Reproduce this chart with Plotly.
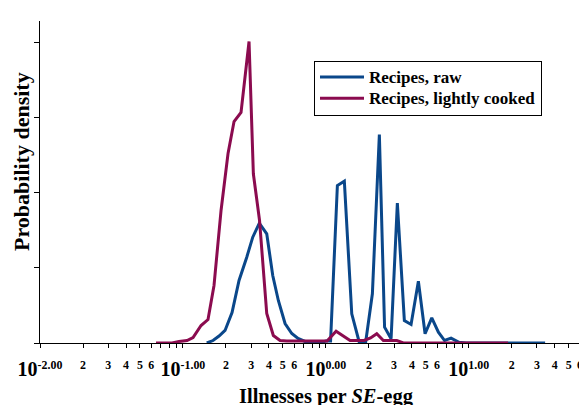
import math
import plotly.graph_objects as go

# ---- data (x: illnesses per SE-egg, y: density, arbitrary units) ----
raw_x = [0.1468, 0.1624, 0.1789, 0.1971, 0.2206, 0.2469, 0.2796, 0.3080, 0.3424, 0.3859,
         0.4250, 0.4651, 0.5183, 0.5775, 0.6390, 0.7152, 0.8006, 0.8960, 1.003, 1.079,
         1.204, 1.347, 1.518, 1.707, 1.902, 2.116, 2.368, 2.575, 2.860, 3.164,
         3.542, 3.947, 4.440, 4.945, 5.509, 6.129, 6.770, 7.517, 8.552, 9.574,
         11.99, 16.56, 22.86, 34.2]
raw_y = [0.0, 0.033, 0.093, 0.167, 0.407, 0.833, 1.144, 1.411, 1.597, 1.456,
         0.90, 0.567, 0.26, 0.127, 0.06, 0.02, 0.0, 0.0, 0.027, 0.027,
         2.10, 2.157, 0.389, 0.02, 0.02, 0.656, 2.78, 0.211, 0.056, 1.864,
         0.30, 0.247, 0.824, 0.123, 0.336, 0.144, 0.033, 0.064, 0.01, 0.0,
         0.0, 0.0, 0.0, 0.0]

cooked_x = [0.06483, 0.07490, 0.08388, 0.09391, 0.1068, 0.1177, 0.1339, 0.1498, 0.1650, 0.1848,
            0.2068, 0.2278, 0.2550, 0.2901, 0.3110, 0.3436, 0.3859, 0.4291, 0.4780, 0.5327,
            0.5926, 0.6600, 0.7350, 0.8177, 0.9108, 1.020, 1.179, 1.319, 1.477, 1.653,
            1.850, 2.055, 2.271, 2.526, 2.813, 3.134, 3.485, 4.563, 6.298, 8.69,
            11.99, 18.84]
cooked_y = [0.0, 0.0, 0.0, 0.02, 0.033, 0.073, 0.233, 0.313, 0.767, 1.767,
            2.527, 2.953, 3.073, 4.02, 2.256, 1.633, 0.393, 0.10, 0.033, 0.027,
            0.027, 0.027, 0.027, 0.027, 0.027, 0.027, 0.157, 0.093, 0.033, 0.033,
            0.033, 0.067, 0.123, 0.033, 0.033, 0.033, 0.0, 0.0, 0.0, 0.0,
            0.0, 0.0]

series_names = ["Recipes, raw", "Recipes, lightly cooked"]
decades = [-2, -1, 0, 1]
decade_labels = ["-2.00", "-1.00", "0.00", "1.00"]
mantissas = [1, 2, 3, 4, 5, 6, 7, 8, 9]
labelled_mantissas = [2, 3, 4, 5, 6]
y_ticks = [0, 1, 2, 3, 4]

BLUE = "#0a478a"
RED = "#8b0b4f"
FONT = "Liberation Serif"

x_max = 60.0

tickvals, ticktext = [], []
for d, dl in zip(decades, decade_labels):
    for m in mantissas:
        v = m * 10.0 ** d
        if v > x_max:
            continue
        tickvals.append(v)
        if m == 1:
            ticktext.append('<span style="font-size:20px">10</span><sup>' + dl + '</sup>')
        elif m in labelled_mantissas:
            ticktext.append('<sup>' + str(m) + '</sup>')
        else:
            ticktext.append('')

fig = go.Figure()
fig.add_trace(go.Scatter(x=raw_x, y=raw_y, mode="lines",
                         name='<span style="font-size:17px">' + series_names[0] + '</span>',
                         line=dict(color=BLUE, width=3)))
fig.add_trace(go.Scatter(x=cooked_x, y=cooked_y, mode="lines",
                         name='<span style="font-size:17px">' + series_names[1] + '</span>',
                         line=dict(color=RED, width=3)))

# page body has an 8px margin: the figure is sized to fill the rest of the window
fig.update_layout(
    width=579, height=397,
    margin=dict(l=32, r=7, t=13, b=62, autoexpand=False),
    paper_bgcolor="white", plot_bgcolor="white",
    font=dict(family=FONT, color="black", size=16, weight="bold"),
    showlegend=True,
    legend=dict(x=(314 - 40) / 540, y=(342.5 - 60) / 322, xanchor="left", yanchor="top",
                bordercolor="black", borderwidth=1, bgcolor="white",
                font=dict(family=FONT, size=14, color="black", weight="bold"),
                itemwidth=44, tracegroupgap=0),
    xaxis=dict(type="log", range=[-2, math.log10(x_max)], automargin=False,
               tickvals=tickvals, ticktext=ticktext, tickangle=0, ticklabelstandoff=8,
               ticks="outside", ticklen=4, tickcolor="black", tickwidth=1,
               showline=True, linecolor="black", linewidth=1,
               showgrid=False, zeroline=False,
               tickfont=dict(family=FONT, size=17, color="black", weight="bold")),
    yaxis=dict(range=[0, 4.293], tickvals=y_ticks, showticklabels=False, automargin=False,
               ticks="outside", ticklen=5, tickcolor="black", tickwidth=1,
               showline=True, linecolor="black", linewidth=1, mirror=True,
               showgrid=False, zeroline=False),
    annotations=[
        dict(text="Illnesses per <i>SE</i>-egg", xref="paper", yref="paper",
             x=(326 - 40) / 540, y=(342.5 - 382) / 322, xanchor="center", yanchor="top",
             showarrow=False, font=dict(family=FONT, size=20.5, color="black", weight="bold")),
        dict(text="Probability density", xref="paper", yref="paper", textangle=-90,
             x=(21 - 40) / 540, y=(342.5 - 161.5) / 322, xanchor="center", yanchor="middle",
             showarrow=False, font=dict(family=FONT, size=22, color="black", weight="bold")),
    ],
)

fig.write_html("out.html")
